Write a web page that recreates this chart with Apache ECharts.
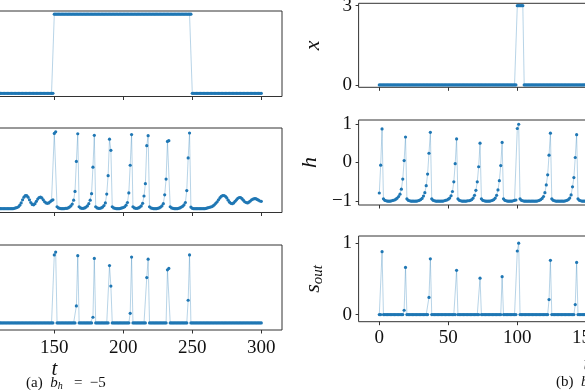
<!DOCTYPE html>
<html><head><meta charset="utf-8">
<script src="https://cdn.jsdelivr.net/npm/echarts@6/dist/echarts.min.js"></script>
<style>html,body{margin:0;padding:0;background:#fff}#c{width:585px;height:390px}</style>
</head><body><div id="c"></div>
<script>
// ---- data: (a) b_h = -5, samples t = 100..300 ----
const leftStart = 100;
const leftX = [
0,0,0,0,0,0,0,0,0,0, 0,0,0,0,0,0,0,0,0,0, 0,0,0,0,0,0,0,0,0,0, 0,0,0,0,0,0,0,0,0,0, 0,0,0,0,0,0,0,0,0,0,
3,3,3,3,3,3,3,3,3,3, 3,3,3,3,3,3,3,3,3,3, 3,3,3,3,3,3,3,3,3,3, 3,3,3,3,3,3,3,3,3,3, 3,3,3,3,3,3,3,3,3,3,
3,3,3,3,3,3,3,3,3,3, 3,3,3,3,3,3,3,3,3,3, 3,3,3,3,3,3,3,3,3,3, 3,3,3,3,3,3,3,3,3,3, 3,3,3,3,3,3,3,3,3,3,
0,0,0,0,0,0,0,0,0,0, 0,0,0,0,0,0,0,0,0,0, 0,0,0,0,0,0,0,0,0,0, 0,0,0,0,0,0,0,0,0,0, 0,0,0,0,0,0,0,0,0,0,
0];
const leftH = [
-1,-1,-1,-1,-1,-1,-1,-1,-1,-1,
-1,-1,-1,-1,-1,-1,-1,-1,-1,-1,
-1,-0.99,-0.98,-0.97,-0.95,-0.91,-0.85,-0.77,-0.70,-0.66,
-0.66,-0.70,-0.77,-0.84,-0.89,-0.90,-0.87,-0.81,-0.75,-0.71,
-0.70,-0.72,-0.77,-0.82,-0.85,-0.86,-0.85,-0.82,-0.79,-0.77,
0.96,1.0,-0.95,-0.98,-0.99,-1,-1,-1,-0.99,-0.99,
-0.98,-0.96,-0.93,-0.88,-0.78,-0.55,0.23,0.95,-0.95,-0.98,
-0.99,-0.99,-0.98,-0.96,-0.93,-0.87,-0.78,-0.61,0.08,0.91,
-0.95,-0.98,-0.99,-0.99,-0.98,-0.96,-0.92,-0.85,-0.62,-0.14,
0.81,0.52,-0.95,-0.98,-0.99,-1,-1,-1,-0.99,-0.98,
-0.97,-0.95,-0.91,-0.84,-0.59,0.13,0.93,-0.95,-0.98,-0.99,
-0.99,-0.98,-0.96,-0.93,-0.86,-0.67,-0.35,0.64,0.90,-0.95,
-0.98,-0.99,-1,-1,-1,-0.99,-0.98,-0.96,-0.93,-0.87,
-0.64,-0.23,0.75,0.77,-0.95,-0.98,-0.99,-1,-1,-1,
-0.99,-0.98,-0.96,-0.94,-0.90,-0.84,-0.53,0.32,0.97,-0.96,
-0.99,-1,-1,-1,-1,-1,-1,-1,-1,-1,
-0.99,-0.98,-0.97,-0.96,-0.95,-0.93,-0.90,-0.86,-0.82,-0.77,
-0.72,-0.68,-0.66,-0.66,-0.68,-0.72,-0.78,-0.83,-0.86,-0.87,
-0.85,-0.81,-0.77,-0.73,-0.71,-0.71,-0.74,-0.78,-0.82,-0.84,
-0.85,-0.83,-0.80,-0.77,-0.75,-0.74,-0.74,-0.76,-0.78,-0.80,
-0.81];
const leftS = [
0,0,0,0,0,0,0,0,0,0, 0,0,0,0,0,0,0,0,0,0, 0,0,0,0,0,0,0,0,0,0, 0,0,0,0,0,0,0,0,0,0, 0,0,0,0,0,0,0,0,0,0,
0.96,1.0,0,0,0,0,0,0,0,0,
0,0,0,0,0,0,0.24,0.95,0,0,
0,0,0,0,0,0,0,0,0.08,0.91,
0,0,0,0,0,0,0,0,0,0,
0.81,0.52,0,0,0,0,0,0,0,0,
0,0,0,0,0,0.135,0.93,0,0,0,
0,0,0,0,0,0,0,0.64,0.90,0,
0,0,0,0,0,0,0,0,0,0,
0,0,0.75,0.77,0,0,0,0,0,0,
0,0,0,0,0,0,0,0.32,0.96,0,
0,0,0,0,0,0,0,0,0,0, 0,0,0,0,0,0,0,0,0,0, 0,0,0,0,0,0,0,0,0,0, 0,0,0,0,0,0,0,0,0,0, 0,0,0,0,0,0,0,0,0,0,
0];

// ---- data: (b), samples t = 0..152 ----
const rightStart = 0;
const rightX = [
0,0,0,0,0,0,0,0,0,0, 0,0,0,0,0,0,0,0,0,0, 0,0,0,0,0,0,0,0,0,0, 0,0,0,0,0,0,0,0,0,0, 0,0,0,0,0,0,0,0,0,0,
0,0,0,0,0,0,0,0,0,0, 0,0,0,0,0,0,0,0,0,0, 0,0,0,0,0,0,0,0,0,0, 0,0,0,0,0,0,0,0,0,0, 0,0,0,0,0,0,0,0,0,0,
3,3,3,3,3,0,0,0,0,0, 0,0,0,0,0,0,0,0,0,0, 0,0,0,0,0,0,0,0,0,0, 0,0,0,0,0,0,0,0,0,0, 0,0,0,0,0,0,0,0,0,0,
0,0,0];
const rightH = [
-0.79,-0.07,0.87,-0.94,-0.98,-0.99,-1,-1,-1,-0.99,
-0.98,-0.97,-0.95,-0.92,-0.88,-0.82,-0.69,-0.43,0.05,0.66,
-0.94,-0.98,-0.99,-1,-1,-1,-1,-1,-0.99,-0.98,
-0.96,-0.93,-0.87,-0.78,-0.60,-0.30,0.24,0.78,-0.94,-0.98,
-0.99,-1,-1,-1,-1,-1,-1,-0.99,-0.98,-0.97,
-0.95,-0.92,-0.86,-0.75,-0.50,-0.03,0.61,-0.94,-0.98,-0.99,
-1,-1,-1,-1,-0.99,-0.99,-0.98,-0.96,-0.92,-0.85,
-0.72,-0.50,-0.11,0.50,-0.94,-0.98,-0.99,-1,-1,-1,
-1,-0.99,-0.98,-0.96,-0.92,-0.85,-0.71,-0.47,-0.08,0.52,
-0.94,-0.98,-0.99,-1,-1,-1,-1,-0.99,-0.98,-0.97,
0.88,0.99,-0.94,-0.98,-0.99,-1,-1,-1,-1,-1,
-1,-1,-1,-1,-1,-0.99,-0.98,-0.96,-0.93,-0.88,
-0.78,-0.58,-0.32,0.19,0.76,-0.94,-0.98,-0.99,-1,-1,
-1,-1,-1,-1,-1,-0.99,-0.98,-0.96,-0.92,-0.84,
-0.63,-0.39,0.13,0.72,-0.94,-0.98,-0.99,-1,-1,-1,
-1,-1,-1];
const rightS = [
0,0,0.88,0,0,0,0,0,0,0,
0,0,0,0,0,0,0,0,0.06,0.66,
0,0,0,0,0,0,0,0,0,0,
0,0,0,0,0,0,0.24,0.78,0,0,
0,0,0,0,0,0,0,0,0,0,
0,0,0,0,0,0,0.62,0,0,0,
0,0,0,0,0,0,0,0,0,0,
0,0,0,0.51,0,0,0,0,0,0,
0,0,0,0,0,0,0,0,0,0.53,
0,0,0,0,0,0,0,0,0,0,
0.89,1.0,0,0,0,0,0,0,0,0,
0,0,0,0,0,0,0,0,0,0,
0,0,0,0.21,0.76,0,0,0,0,0,
0,0,0,0,0,0,0,0,0,0,
0,0,0.14,0.73,0,0,0,0,0,0,
0,0,0];

const tTicks = [0, 50, 100, 150, 200, 250, 300];
const xTicks = [0, 3];
const hTicks = [-1, 0, 1];
const sTicks = [0, 1];

const FONT = 'Liberation Serif';
const INK = '#111';
const BLUE = '#1f77b4';

function pairs(start, vals) { return vals.map((v, i) => [start + i, v]); }
function fmt(v) { return v < 0 ? '\u2212' + (-v) : String(v); }

const rows = [
  { key: 'x', ticks: xTicks, lim: [[-0.12, 3.12], [-0.09, 3.09]] },
  { key: 'h', ticks: hTicks, lim: [[-1.1, 1.1], [-1.1, 1.1]] },
  { key: 's', ticks: sTicks, lim: [[-0.1, 1.1], [-0.1, 1.1]] }
];
const gridL = [{ top: 11, height: 85.5 }, { top: 128, height: 84.5 }, { top: 245, height: 85 }];
const gridR = [{ top: 3.3, height: 84 }, { top: 120, height: 85 }, { top: 236, height: 85.7 }];
const seriesData = [
  [pairs(leftStart, leftX), pairs(rightStart, rightX)],
  [pairs(leftStart, leftH), pairs(rightStart, rightH)],
  [pairs(leftStart, leftS), pairs(rightStart, rightS)]
];
const yNames = ['{i|x}', '{i|h}', '{i|s}{sub|out}'];

const grids = [], xAxes = [], yAxes = [], series = [];
for (let r = 0; r < 3; r++) {
  for (let c = 0; c < 2; c++) {
    const idx = grids.length;
    const g = c === 0 ? gridL[r] : gridR[r];
    grids.push({
      left: c === 0 ? -173.4 : 358.6, width: 455.4, top: g.top, height: g.height,
      outerBoundsMode: 'none', containLabel: false,
      show: true, borderColor: '#333', borderWidth: 1, backgroundColor: 'transparent'
    });
    const last = r === 2;
    xAxes.push({
      gridIndex: idx, type: 'value', min: -15, max: 315, position: 'bottom',
      axisLine: { show: false, onZero: false }, splitLine: { show: false },
      axisTick: { show: true, customValues: tTicks, length: 3.5, lineStyle: { color: '#333', width: 1 } },
      axisLabel: { show: last, customValues: tTicks, margin: c === 0 ? 9 : 7,
        fontFamily: FONT, fontSize: 19, color: INK },
      name: last ? 't' : '', nameLocation: 'middle', nameGap: c === 0 ? 27 : 32,
      nameTextStyle: { fontFamily: FONT, fontStyle: 'italic', fontSize: 21, color: INK }
    });
    yAxes.push({
      gridIndex: idx, type: 'value', min: rows[r].lim[c][0], max: rows[r].lim[c][1], position: 'left',
      axisLine: { show: false, onZero: false }, splitLine: { show: false },
      axisTick: { show: true, customValues: rows[r].ticks, length: 3, lineStyle: { color: '#333', width: 1 } },
      axisLabel: { show: c === 1, customValues: rows[r].ticks, margin: 6.5, formatter: fmt,
        fontFamily: FONT, fontSize: 19, color: INK },
      name: c === 1 ? yNames[r] : '', nameLocation: 'middle', nameRotate: 90, nameGap: 33,
      nameTextStyle: { fontFamily: FONT, color: INK,
        rich: { i: { fontFamily: FONT, fontStyle: 'italic', fontSize: 22, color: INK, lineHeight: 24 },
                sub: { fontFamily: FONT, fontStyle: 'italic', fontSize: 15, color: INK, lineHeight: 15, verticalAlign: 'bottom' } } }
    });
    series.push({
      type: 'line', xAxisIndex: idx, yAxisIndex: idx, data: seriesData[r][c],
      symbol: 'circle', symbolSize: 3.2, showAllSymbol: true, clip: true,
      itemStyle: { color: BLUE, borderWidth: 0 },
      lineStyle: { color: 'rgba(31,119,180,0.4)', width: 0.8 },
      emphasis: { disabled: true }, silent: true, animation: false
    });
  }
}

const capRich = {
  r: { fontFamily: FONT, fontSize: 15, fill: INK },
  i: { fontFamily: FONT, fontStyle: 'italic', fontSize: 15, fill: INK },
  sub: { fontFamily: FONT, fontStyle: 'italic', fontSize: 10, fill: INK, verticalAlign: 'bottom' }
};
const chart = echarts.init(document.getElementById('c'), null, { renderer: 'canvas' });
chart.setOption({
  backgroundColor: '#fff', animation: false,
  grid: grids, xAxis: xAxes, yAxis: yAxes, series: series,
  graphic: [
    { type: 'text', left: 26, top: 376, style: { text: '{r|(a)  }{i|b}{sub|h}{r|   =  \u22125}', rich: capRich } },
    { type: 'text', left: 556, top: 375, style: { text: '{r|(b)  }{i|b}{sub|h}', rich: capRich } }
  ]
});
</script></body></html>
